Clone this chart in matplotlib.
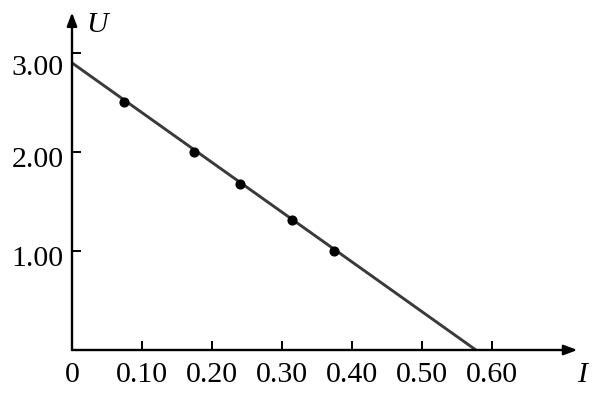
import matplotlib

matplotlib.use("Agg")
import matplotlib.pyplot as plt

plt.rcParams["font.family"] = ["Liberation Serif", "DejaVu Serif"]

# measured points (I in A, U in V)
current = [0.075, 0.175, 0.24, 0.315, 0.375]
voltage = [2.51, 2.00, 1.68, 1.31, 1.00]

# fitted line end points
fit_current = [0.0, 0.577]
fit_voltage = [2.90, 0.0]

x_ticks = [0.10, 0.20, 0.30, 0.40, 0.50, 0.60]
x_tick_labels = ["0.10", "0.20", "0.30", "0.40", "0.50", "0.60"]
y_ticks = [1.00, 2.00, 3.00]
y_tick_labels = ["1.00", "2.00", "3.00"]

FONT_SIZE = 21.5
AXIS_COLOR = "black"

fig = plt.figure(figsize=(6.0, 3.98), dpi=100, facecolor="white")
ax = fig.add_axes([0, 0, 1, 1])
ax.set_xlim(-72 / 700, (600 - 72) / 700)
ax.set_ylim((350 - 398) / 99, 350 / 99)
for side in ("top", "right", "left", "bottom"):
    ax.spines[side].set_visible(False)
ax.spines["left"].set_position(("data", 0))
ax.spines["bottom"].set_position(("data", 0))
ax.set_xticks(x_ticks)
ax.set_yticks(y_ticks)
ax.set_xticklabels([])
ax.set_yticklabels([])
ax.tick_params(direction="in", length=6.5, width=1.4, color=AXIS_COLOR)

# axes with arrow heads
arrow = dict(arrowstyle="-|>,head_length=0.8,head_width=0.3", color=AXIS_COLOR,
             lw=1.7, shrinkA=0, shrinkB=0)
ax.annotate("", xy=(0.722, 0), xytext=(0, 0), arrowprops=arrow)
ax.annotate("", xy=(0, 3.41), xytext=(0, 0), arrowprops=arrow)

# tick labels
for value, label in zip(x_ticks, x_tick_labels):
    ax.annotate(label, xy=(value, 0), xytext=(0, -9), textcoords="offset points",
                ha="center", va="top", fontsize=FONT_SIZE)
ax.annotate("0", xy=(0, 0), xytext=(0, -9), textcoords="offset points",
            ha="center", va="top", fontsize=FONT_SIZE)
for value, label in zip(y_ticks, y_tick_labels):
    shift = -11 if value == 3.00 else -6
    ax.annotate(label, xy=(0, value), xytext=(-6, shift), textcoords="offset points",
                ha="right", va="center", fontsize=FONT_SIZE)

# axis names
ax.annotate("U", xy=(0, 3.41), xytext=(10, 0), textcoords="offset points",
            ha="left", va="top", fontsize=FONT_SIZE, style="italic")
ax.annotate("I", xy=(0.722, 0), xytext=(0, -9), textcoords="offset points",
            ha="left", va="top", fontsize=FONT_SIZE, style="italic")

ax.plot(fit_current, fit_voltage, color="#3a3a3a", lw=2.1, solid_capstyle="butt")
ax.plot(current, voltage, "o", color="black", ms=6.3)

fig.savefig("out.png", dpi=100, facecolor="white")
